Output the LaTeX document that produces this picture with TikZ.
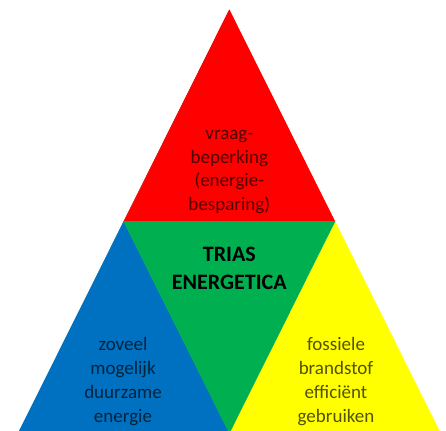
\documentclass[tikz,border=0pt]{standalone}
\usepackage{fontspec}
\setmainfont{Carlito}
\definecolor{tred}{HTML}{FF0000}
\definecolor{tgreen}{HTML}{00B050}
\definecolor{tblue}{HTML}{0070C0}
\definecolor{tyellow}{HTML}{FFFF00}
\begin{document}
\begin{tikzpicture}[x=1pt,y=-1pt,
  part/.style={line width=0.6pt, line join=round},
  lbl/.style={align=center, text=black, text opacity=0.68, inner sep=0pt,
    font=\fontsize{19}{23.7}\selectfont},
  ttl/.style={align=center, text=black, inner sep=0pt,
    font=\fontsize{22}{28}\selectfont\bfseries}]
\useasboundingbox (0,0) rectangle (446,430);
\clip (0,0) rectangle (446,430);
\coordinate (top) at (229.3,10);
\coordinate (ml) at (123.8,221.5);
\coordinate (mr) at (334.8,221.5);
\coordinate (bl) at (18.3,433);
\coordinate (br) at (440.3,433);
\coordinate (bm) at (229.3,433);
\fill[tred] (top) -- (mr) -- (ml) -- cycle;
\draw[part, tred] (top) -- (mr) -- (ml) -- cycle;
\fill[tblue] (ml) -- (bm) -- (bl) -- cycle;
\draw[part, tblue] (ml) -- (bm) -- (bl) -- cycle;
\fill[tyellow] (mr) -- (br) -- (bm) -- cycle;
\draw[part, tyellow] (mr) -- (br) -- (bm) -- cycle;
\fill[tgreen] (ml) -- (mr) -- (bm) -- cycle;
\draw[part, tgreen] (ml) -- (mr) -- (bm) -- cycle;
\node[lbl] (vraag) at (229.3,172) {vraag-\\beperking\\(energie-\\besparing)};
\node[ttl] (trias) at (229.3,268.5) {TRIAS\\ENERGETICA};
\node[lbl] (duurzaam) at (123,381.5) {zoveel\\mogelijk\\duurzame\\energie};
\node[lbl] (fossiel) at (336,381.5) {fossiele\\brandstof\\efficiënt\\gebruiken};
\end{tikzpicture}
\end{document}
